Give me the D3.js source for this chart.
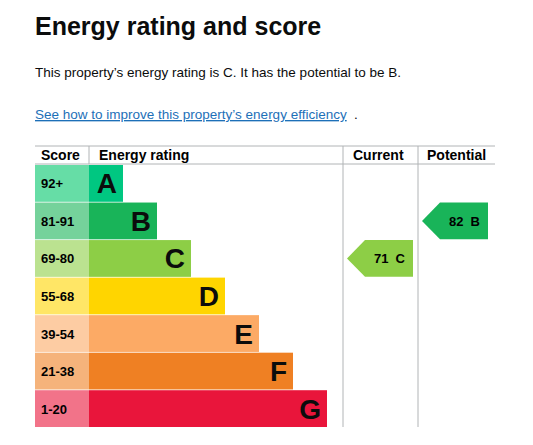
<!DOCTYPE html><html><head><meta charset="utf-8">
<script src="https://cdn.jsdelivr.net/npm/d3@7"></script>
<style>body{margin:0;background:#fff;font-family:"Liberation Sans",Arial,sans-serif}</style></head><body>
<svg id="c" width="533" height="445"></svg>
<script>
const bands=["A","B","C","D","E","F","G"];
const scores=["92+","81-91","69-80","55-68","39-54","21-38","1-20"];
const barLen=[1,2,3,4,5,6,7];
const colors=["#00c781","#19b459","#8dce46","#ffd500","#fcaa65","#ef8023","#e9153b"];
const tints=["#66dda6","#75d29b","#bbe290","#ffe666","#fdcca3","#f5b37b","#f27389"];
const current={score:71,band:"C"}, potential={score:82,band:"B"};
const svg=d3.select("#c");
svg.append("text").attr("x",35).attr("y",35).attr("font-size",25).attr("font-weight","bold").attr("fill","#0b0c0c").text("Energy rating and score");
svg.append("text").attr("x",35).attr("y",77).attr("font-size",13.5).attr("fill","#0b0c0c").text("This property’s energy rating is C. It has the potential to be B.");
svg.append("text").attr("x",35).attr("y",119).attr("font-size",13.5).attr("fill","#1d70b8").attr("text-decoration","underline").text("See how to improve this property’s energy efficiency");
svg.append("text").attr("x",354).attr("y",119).attr("font-size",13.5).attr("fill","#0b0c0c").text(".");
const y=d3.scaleBand().domain(bands).range([165,427]).paddingInner(0.02);
const x=d3.scaleLinear().domain([0,7]).range([89,327]);
const X0=35,X1=495,cur0=343,pot0=418;
// grid
svg.append("line").attr("x1",X0).attr("x2",X1).attr("y1",146).attr("y2",146).attr("stroke","#b1b4b6");
svg.append("line").attr("x1",X0).attr("x2",X1).attr("y1",164).attr("y2",164).attr("stroke","#b1b4b6");
[cur0,pot0].forEach(v=>svg.append("line").attr("x1",v).attr("x2",v).attr("y1",146).attr("y2",427).attr("stroke","#b1b4b6"));
svg.append("line").attr("x1",89).attr("x2",89).attr("y1",146).attr("y2",164).attr("stroke","#b1b4b6");
const hdr=[["Score",41],["Energy rating",99],["Current",353],["Potential",427]];
hdr.forEach(h=>svg.append("text").attr("x",h[1]).attr("y",160).attr("font-size",14).attr("font-weight","bold").text(h[0]));
const g=svg.selectAll("g.r").data(bands).join("g");
g.append("rect").attr("x",X0).attr("y",d=>y(d)).attr("width",x(0)-X0).attr("height",y.bandwidth()).attr("fill",(d,i)=>tints[i]);
g.append("rect").attr("x",x(0)).attr("y",d=>y(d)).attr("width",(d,i)=>x(barLen[i])-x(0)).attr("height",y.bandwidth()).attr("fill",(d,i)=>colors[i]);
g.append("text").attr("x",41).attr("y",d=>y(d)+y.bandwidth()/2+5).attr("font-size",13).attr("font-weight","bold").text((d,i)=>scores[i]);
g.append("text").attr("x",(d,i)=>x(barLen[i])-6).attr("y",d=>y(d)+y.bandwidth()/2+10).attr("text-anchor","end").attr("font-size",28).attr("font-weight","bold").attr("fill","#0b0c0c").text(d=>d);
function arrow(o,x0){const i=bands.indexOf(o.band),t=y(o.band),h=y.bandwidth(),l=x0+4,r=x0+70;
svg.append("path").attr("d",`M${l},${t+h/2}L${l+18},${t}L${r},${t}L${r},${t+h}L${l+18},${t+h}Z`).attr("fill",colors[i]);
svg.append("text").attr("x",r-8).attr("y",t+h/2+5).attr("text-anchor","end").attr("font-size",13).attr("font-weight","bold").attr("xml:space","preserve").text(o.score+"  "+o.band);}
arrow(current,cur0);arrow(potential,pot0);
</script></body></html>
